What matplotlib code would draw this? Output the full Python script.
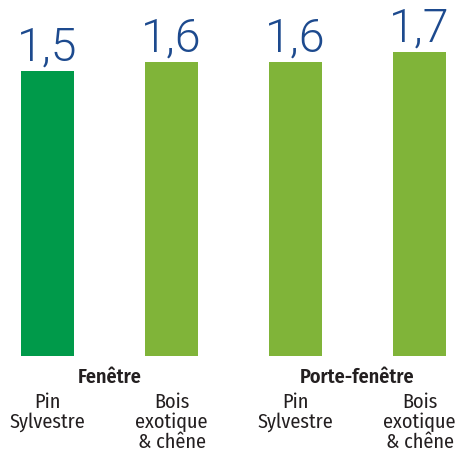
import matplotlib
matplotlib.use("Agg")
import matplotlib.pyplot as plt
from matplotlib import font_manager

categories = ["Pin\nSylvestre", "Bois\nexotique\n& chêne", "Pin\nSylvestre", "Bois\nexotique\n& chêne"]
values = [1.5, 1.6, 1.6, 1.7]
value_labels = ["1,5", "1,6", "1,6", "1,7"]
groups = ["Fenêtre", "Porte-fenêtre"]
colors = ["#009a4a", "#80b439", "#80b439", "#80b439"]

names = {f.name for f in font_manager.fontManager.ttflist}


def pick(candidates):
    for c in candidates:
        if c in names:
            return c
    return "DejaVu Sans"


narrow = pick(["Fira Sans Condensed", "Roboto Condensed", "Open Sans Condensed",
               "Sofia Sans Semi Condensed", "Liberation Sans Narrow"])
light = pick(["Roboto", "Inter", "Lato", "Open Sans"])

W, H = 463, 452
PX = 72 / 100  # points per pixel at 100 dpi
fig = plt.figure(figsize=(W / 100, H / 100), dpi=100)
ax = fig.add_axes([0, (H - 357) / H, 1, 357 / H])

base = -1.5
x = list(range(len(values)))
ax.bar(x, [v - base for v in values], bottom=base, width=0.427, color=colors)
ax.set_xlim(-47.5 / 124, 415.5 / 124)
ax.set_ylim(base, base + 357 / 95)
ax.axis("off")

for xi, v, lab in zip(x, values, value_labels):
    ax.annotate(lab, (xi, v), xytext=(0, 11 * PX), textcoords="offset points",
                ha="center", va="baseline", fontsize=33.5, color="#1d4a8e",
                family=light, fontweight=300)

# category names, one line at a time under each bar
for xi, cat in zip(x, categories):
    for li, line in enumerate(cat.split("\n")):
        ax.annotate(line, (xi, base), xytext=(0, -(51 + 20 * li) * PX),
                    textcoords="offset points", ha="center", va="baseline",
                    fontsize=14.5, color="#231f20", family=narrow)

for gi, g in enumerate(groups):
    ax.annotate(g, (gi * 2 + 0.5, base), xytext=(0, -26 * PX), textcoords="offset points",
                ha="center", va="baseline", fontsize=14.5, color="#231f20",
                family=narrow, fontweight=600)

fig.savefig("out.png", dpi=100)
